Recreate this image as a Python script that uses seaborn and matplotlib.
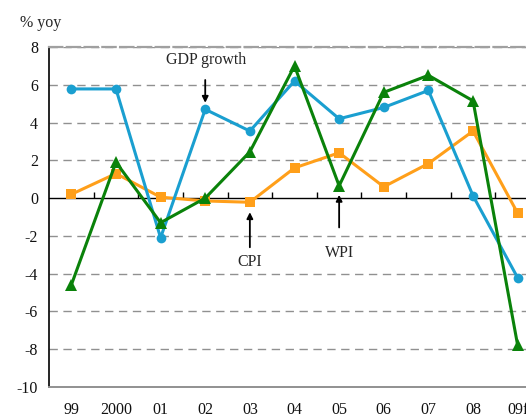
import numpy as np
import pandas as pd
import matplotlib
matplotlib.use('Agg')
import matplotlib.pyplot as plt
import seaborn as sns

years = ['99', '2000', '01', '02', '03', '04', '05', '06', '07', '08', '09f']
gdp = [5.78, 5.78, -2.1, 4.7, 3.55, 6.2, 4.2, 4.8, 5.7, 0.12, -4.22]
cpi = [0.2, 1.3, 0.05, -0.15, -0.22, 1.6, 2.4, 0.6, 1.83, 3.55, -0.8]
wpi = [-4.6, 1.9, -1.3, 0.0, 2.45, 7.0, 0.65, 5.6, 6.5, 5.15, -7.8]

sns.set_theme(style='white')
plt.rcParams['font.family'] = ['Liberation Serif', 'DejaVu Serif']
plt.rcParams['axes.unicode_minus'] = False

x = np.arange(len(years))
df = pd.DataFrame({'x': x, 'gdp': gdp, 'cpi': cpi, 'wpi': wpi})

fig = plt.figure(figsize=(5.26, 4.17), dpi=100)
ax = fig.add_axes([49 / 526, 30 / 417, 491 / 526, 340 / 417])

ax.set_ylim(-10, 8)
ax.set_xlim(-0.5, 10.5)
ax.set_yticks(range(-10, 9, 2))
for yv in range(-8, 9, 2):
    if yv != 0:
        ax.axhline(yv, color='#909090', lw=1, ls=(0, (6, 4)), zorder=0)
ax.axhline(0, color='black', lw=1, zorder=1)
ax.vlines(x[:-1] + 0.5, 0, 0.3, color='black', lw=1, zorder=1)

sns.lineplot(data=df, x='x', y='cpi', ax=ax, color='#ff9f1a', lw=2.2,
             marker='s', markersize=7, markeredgewidth=0, zorder=3)
sns.lineplot(data=df, x='x', y='gdp', ax=ax, color='#1a9fd0', lw=2.2,
             marker='o', markersize=7, markeredgewidth=0, zorder=4)
sns.lineplot(data=df, x='x', y='wpi', ax=ax, color='#0a820a', lw=2.2,
             marker='^', markersize=8, markeredgewidth=0, zorder=5)

ax.set_xticks(x)
ax.set_xticklabels(years)
ax.set_xlabel('')
ax.set_ylabel('')
ax.tick_params(axis='both', length=0, labelsize=11.5, colors='#111111')
ax.tick_params(axis='x', pad=11)
ax.tick_params(axis='y', pad=8)

ax.spines['left'].set_color('black')
ax.spines['left'].set_linewidth(1.2)
ax.spines['top'].set_color('#a0a0a0')
ax.spines['top'].set_linewidth(1.6)
ax.spines['top'].set_linestyle((0, (6, 2)))
ax.spines['bottom'].set_color('#909090')
ax.spines['bottom'].set_linewidth(1.4)
ax.spines['right'].set_visible(False)

fig.text(20 / 526, 1 - 23 / 417, '% yoy', fontsize=11.5, ha='left', va='center')

arrow = dict(arrowstyle='-|>', color='black', lw=1.3, mutation_scale=9)
ax.annotate('', xy=(3, 4.9), xytext=(3, 6.4), arrowprops=arrow)
ax.text(3.03, 7.3, 'GDP growth', ha='center', va='center', fontsize=11.5)
ax.annotate('', xy=(4, -0.6), xytext=(4, -2.75), arrowprops=arrow)
ax.text(4.0, -3.4, 'CPI', ha='center', va='center', fontsize=11.5)
ax.annotate('', xy=(6, 0.32), xytext=(6, -1.7), arrowprops=arrow)
ax.text(6.0, -2.9, 'WPI', ha='center', va='center', fontsize=11.5)

fig.savefig('out.png', dpi=100)
